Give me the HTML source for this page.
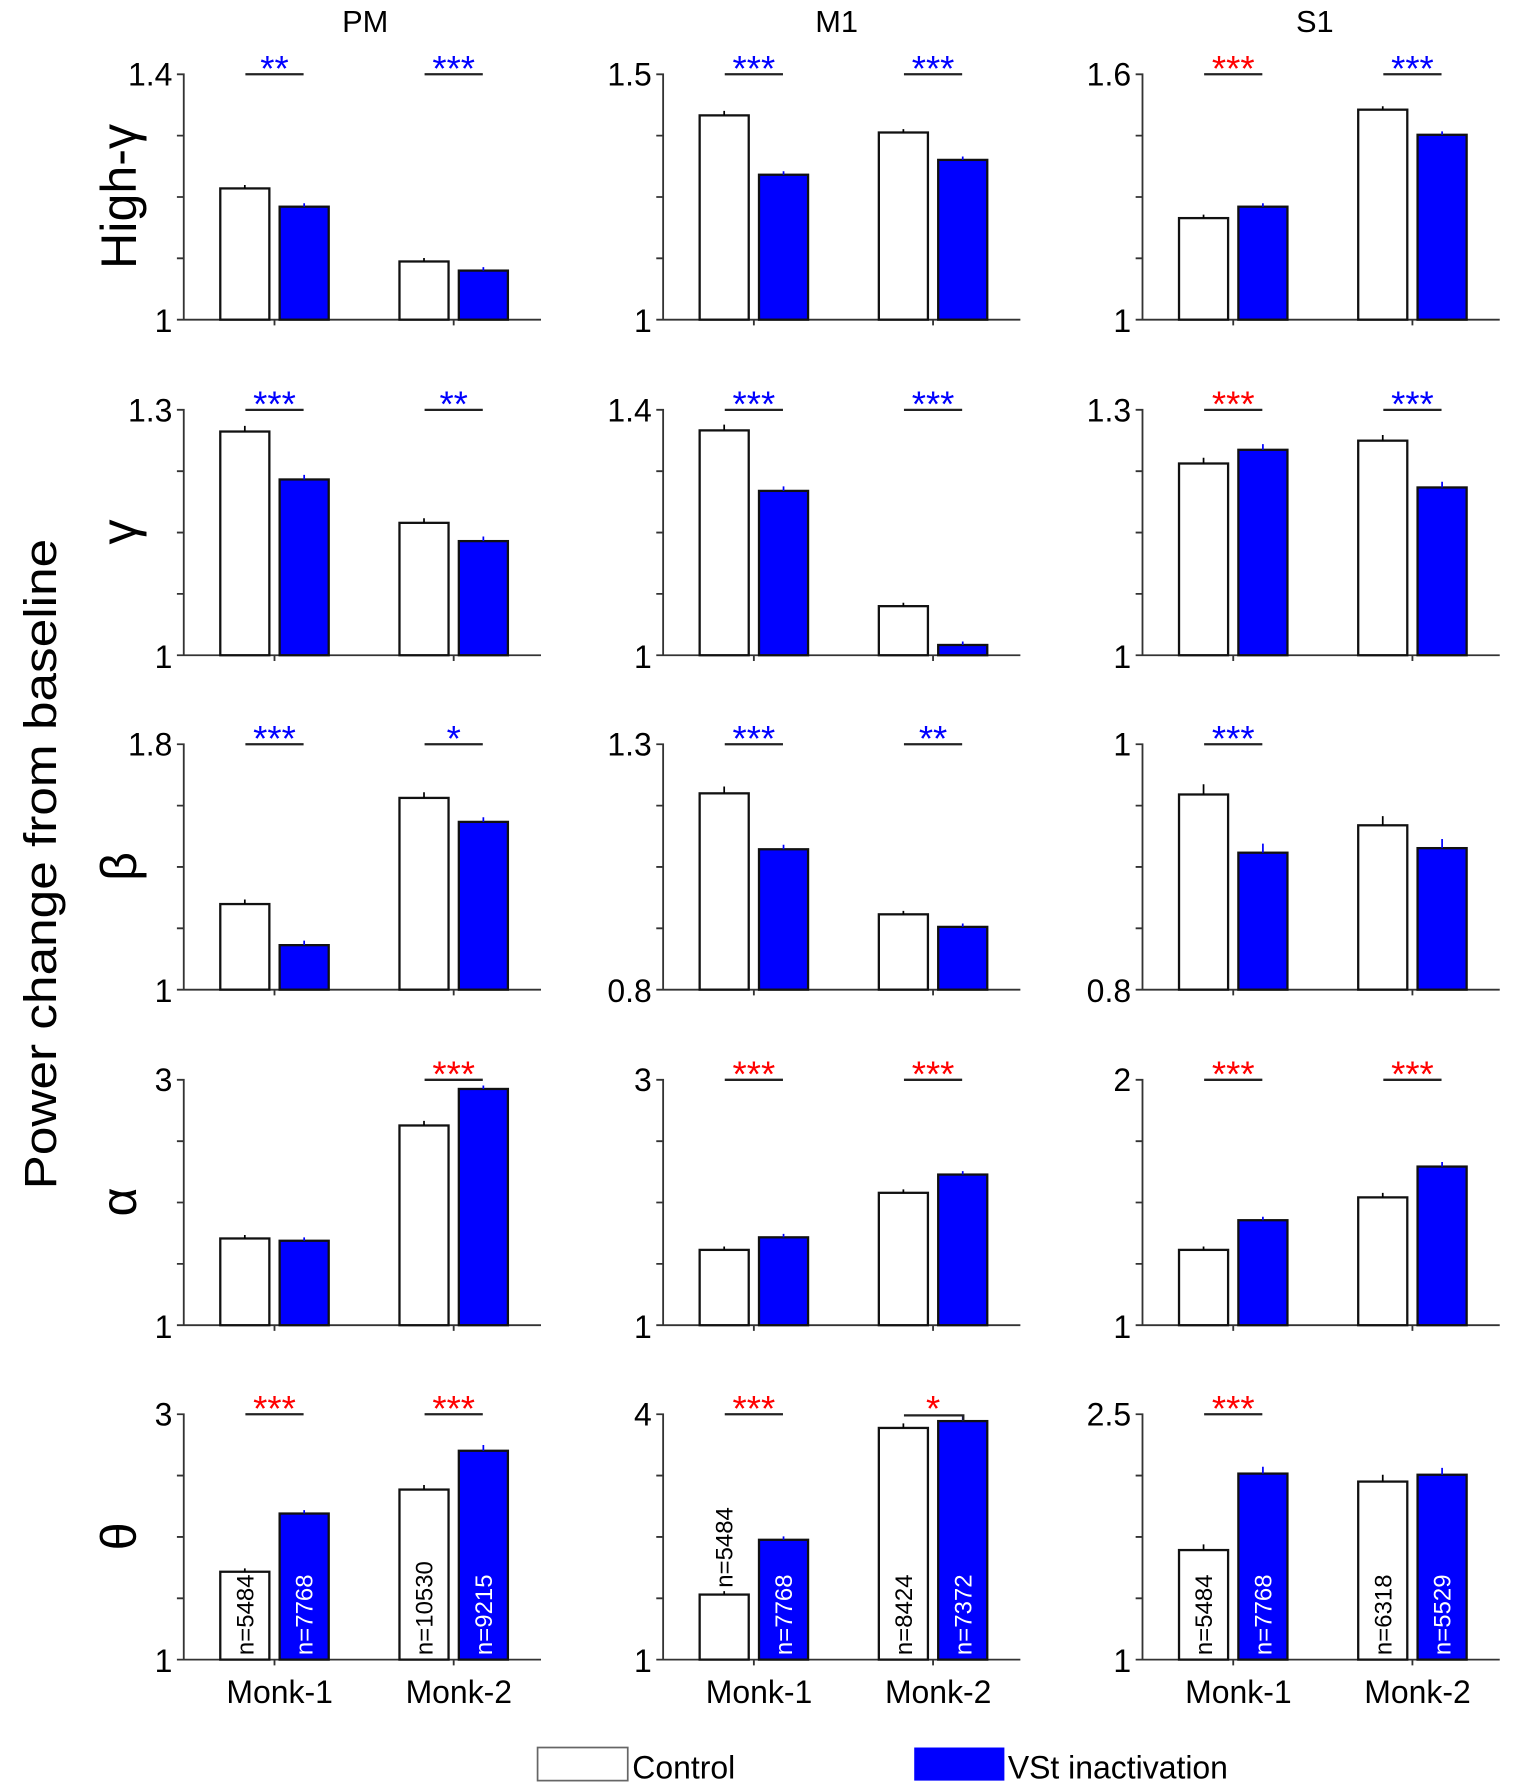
<!DOCTYPE html>
<html><head><meta charset="utf-8"><style>
html,body{margin:0;padding:0;background:#fff}
svg{display:block}
text{font-family:"Liberation Sans",Arial,sans-serif}
.c{fill:#fff;stroke:#111;stroke-width:2}
.v{fill:#0000ff;stroke:#111;stroke-width:2}
.tl{font-size:28px;text-anchor:end}
.st{font-size:32px;text-anchor:middle}
.nb{font-size:21px;fill:#000}
.nw{font-size:21px;fill:#fff}
</style></head><body>
<svg width="1518" height="1783" viewBox="0 0 1330 1562" xmlns="http://www.w3.org/2000/svg">
<defs>
<g id="ax"><path d="M-6 0H0V215H313M-6 53.75H0M-6 107.5H0M-6 161.25H0M-6 215H0M79.5 215V220M236.5 215V220" fill="none" stroke="#333" stroke-width="1.6"/></g>
<path id="s1" d="M54 0H105" stroke="#222" stroke-width="2"/>
<path id="s2" d="M211 0H262" stroke="#222" stroke-width="2"/>
</defs>

<text x="320" y="28" font-size="27" text-anchor="middle">PM</text>
<text x="733" y="28" font-size="27" text-anchor="middle">M1</text>
<text x="1152" y="28" font-size="27" text-anchor="middle">S1</text>

<text transform="translate(49,757) rotate(-90)" font-size="40" text-anchor="middle" textLength="570" lengthAdjust="spacingAndGlyphs">Power change from baseline</text>
<text transform="translate(119,172) rotate(-90)" font-size="44" text-anchor="middle">High-γ</text>
<text transform="translate(119,466) rotate(-90)" font-size="44" text-anchor="middle">γ</text>
<text transform="translate(119,759) rotate(-90)" font-size="44" text-anchor="middle">β</text>
<text transform="translate(119,1053) rotate(-90)" font-size="44" text-anchor="middle">α</text>
<text transform="translate(119,1346) rotate(-90)" font-size="44" text-anchor="middle">θ</text>

<!-- Row 1 -->
<g transform="translate(161,65)"><use href="#ax"/>
<text class="tl" x="-10" y="10">1.4</text><text class="tl" x="-10" y="226">1</text>
<rect class="c" x="32" y="100" width="43" height="115"/><rect class="v" x="84" y="116" width="43" height="99"/>
<rect class="c" x="189" y="164" width="43" height="51"/><rect class="v" x="241" y="172" width="43" height="43"/>
<path d="M53.5 97V100M210.5 161V164" stroke="#000" stroke-width="1.5"/><path d="M105.5 113V116M262.5 169V172" stroke="#00f" stroke-width="1.5"/>
<use href="#s1"/><use href="#s2"/>
<text class="st" x="79.5" y="6" fill="#00f">**</text><text class="st" x="236.5" y="6" fill="#00f">***</text></g>

<g transform="translate(581,65)"><use href="#ax"/>
<text class="tl" x="-10" y="10">1.5</text><text class="tl" x="-10" y="226">1</text>
<rect class="c" x="32" y="36" width="43" height="179"/><rect class="v" x="84" y="88" width="43" height="127"/>
<rect class="c" x="189" y="51" width="43" height="164"/><rect class="v" x="241" y="75" width="43" height="140"/>
<path d="M53.5 32V36M210.5 48V51" stroke="#000" stroke-width="1.5"/><path d="M105.5 85V88M262.5 72V75" stroke="#00f" stroke-width="1.5"/>
<use href="#s1"/><use href="#s2"/>
<text class="st" x="79.5" y="6" fill="#00f">***</text><text class="st" x="236.5" y="6" fill="#00f">***</text></g>

<g transform="translate(1001,65)"><use href="#ax"/>
<text class="tl" x="-10" y="10">1.6</text><text class="tl" x="-10" y="226">1</text>
<rect class="c" x="32" y="126" width="43" height="89"/><rect class="v" x="84" y="116" width="43" height="99"/>
<rect class="c" x="189" y="31" width="43" height="184"/><rect class="v" x="241" y="53" width="43" height="162"/>
<path d="M53.5 123V126M210.5 28V31" stroke="#000" stroke-width="1.5"/><path d="M105.5 113V116M262.5 50V53" stroke="#00f" stroke-width="1.5"/>
<use href="#s1"/><use href="#s2"/>
<text class="st" x="79.5" y="6" fill="#f00">***</text><text class="st" x="236.5" y="6" fill="#00f">***</text></g>

<!-- Row 2 -->
<g transform="translate(161,359)"><use href="#ax"/>
<text class="tl" x="-10" y="10">1.3</text><text class="tl" x="-10" y="226">1</text>
<rect class="c" x="32" y="19" width="43" height="196"/><rect class="v" x="84" y="61" width="43" height="154"/>
<rect class="c" x="189" y="99" width="43" height="116"/><rect class="v" x="241" y="115" width="43" height="100"/>
<path d="M53.5 14V19M210.5 95V99" stroke="#000" stroke-width="1.5"/><path d="M105.5 57V61M262.5 111V115" stroke="#00f" stroke-width="1.5"/>
<use href="#s1"/><use href="#s2"/>
<text class="st" x="79.5" y="6" fill="#00f">***</text><text class="st" x="236.5" y="6" fill="#00f">**</text></g>

<g transform="translate(581,359)"><use href="#ax"/>
<text class="tl" x="-10" y="10">1.4</text><text class="tl" x="-10" y="226">1</text>
<rect class="c" x="32" y="18" width="43" height="197"/><rect class="v" x="84" y="71" width="43" height="144"/>
<rect class="c" x="189" y="172" width="43" height="43"/><rect class="v" x="241" y="206" width="43" height="9"/>
<path d="M53.5 13V18M210.5 169V172" stroke="#000" stroke-width="1.5"/><path d="M105.5 67V71M262.5 203V206" stroke="#00f" stroke-width="1.5"/>
<use href="#s1"/><use href="#s2"/>
<text class="st" x="79.5" y="6" fill="#00f">***</text><text class="st" x="236.5" y="6" fill="#00f">***</text></g>

<g transform="translate(1001,359)"><use href="#ax"/>
<text class="tl" x="-10" y="10">1.3</text><text class="tl" x="-10" y="226">1</text>
<rect class="c" x="32" y="47" width="43" height="168"/><rect class="v" x="84" y="35" width="43" height="180"/>
<rect class="c" x="189" y="27" width="43" height="188"/><rect class="v" x="241" y="68" width="43" height="147"/>
<path d="M53.5 42V47M210.5 22V27" stroke="#000" stroke-width="1.5"/><path d="M105.5 30V35M262.5 63V68" stroke="#00f" stroke-width="1.5"/>
<use href="#s1"/><use href="#s2"/>
<text class="st" x="79.5" y="6" fill="#f00">***</text><text class="st" x="236.5" y="6" fill="#00f">***</text></g>

<!-- Row 3 -->
<g transform="translate(161,652)"><use href="#ax"/>
<text class="tl" x="-10" y="10">1.8</text><text class="tl" x="-10" y="226">1</text>
<rect class="c" x="32" y="140" width="43" height="75"/><rect class="v" x="84" y="176" width="43" height="39"/>
<rect class="c" x="189" y="47" width="43" height="168"/><rect class="v" x="241" y="68" width="43" height="147"/>
<path d="M53.5 136V140M210.5 42V47" stroke="#000" stroke-width="1.5"/><path d="M105.5 172V176M262.5 64V68" stroke="#00f" stroke-width="1.5"/>
<use href="#s1"/><use href="#s2"/>
<text class="st" x="79.5" y="6" fill="#00f">***</text><text class="st" x="236.5" y="6" fill="#00f">*</text></g>

<g transform="translate(581,652)"><use href="#ax"/>
<text class="tl" x="-10" y="10">1.3</text><text class="tl" x="-10" y="226">0.8</text>
<rect class="c" x="32" y="43" width="43" height="172"/><rect class="v" x="84" y="92" width="43" height="123"/>
<rect class="c" x="189" y="149" width="43" height="66"/><rect class="v" x="241" y="160" width="43" height="55"/>
<path d="M53.5 37V43M210.5 146V149" stroke="#000" stroke-width="1.5"/><path d="M105.5 88V92M262.5 157V160" stroke="#00f" stroke-width="1.5"/>
<use href="#s1"/><use href="#s2"/>
<text class="st" x="79.5" y="6" fill="#00f">***</text><text class="st" x="236.5" y="6" fill="#00f">**</text></g>

<g transform="translate(1001,652)"><use href="#ax"/>
<text class="tl" x="-10" y="10">1</text><text class="tl" x="-10" y="226">0.8</text>
<rect class="c" x="32" y="44" width="43" height="171"/><rect class="v" x="84" y="95" width="43" height="120"/>
<rect class="c" x="189" y="71" width="43" height="144"/><rect class="v" x="241" y="91" width="43" height="124"/>
<path d="M53.5 35V44M210.5 63V71" stroke="#000" stroke-width="1.5"/><path d="M105.5 87V95M262.5 83V91" stroke="#00f" stroke-width="1.5"/>
<use href="#s1"/>
<text class="st" x="79.5" y="6" fill="#00f">***</text></g>

<!-- Row 4 -->
<g transform="translate(161,946)"><use href="#ax"/>
<text class="tl" x="-10" y="10">3</text><text class="tl" x="-10" y="226">1</text>
<rect class="c" x="32" y="139" width="43" height="76"/><rect class="v" x="84" y="141" width="43" height="74"/>
<rect class="c" x="189" y="40" width="43" height="175"/><rect class="v" x="241" y="8" width="43" height="207"/>
<path d="M53.5 136V139M210.5 36V40" stroke="#000" stroke-width="1.5"/><path d="M105.5 138V141M262.5 5V8" stroke="#00f" stroke-width="1.5"/>
<use href="#s2"/>
<text class="st" x="236.5" y="6" fill="#f00">***</text></g>

<g transform="translate(581,946)"><use href="#ax"/>
<text class="tl" x="-10" y="10">3</text><text class="tl" x="-10" y="226">1</text>
<rect class="c" x="32" y="149" width="43" height="66"/><rect class="v" x="84" y="138" width="43" height="77"/>
<rect class="c" x="189" y="99" width="43" height="116"/><rect class="v" x="241" y="83" width="43" height="132"/>
<path d="M53.5 146V149M210.5 96V99" stroke="#000" stroke-width="1.5"/><path d="M105.5 135V138M262.5 80V83" stroke="#00f" stroke-width="1.5"/>
<use href="#s1"/><use href="#s2"/>
<text class="st" x="79.5" y="6" fill="#f00">***</text><text class="st" x="236.5" y="6" fill="#f00">***</text></g>

<g transform="translate(1001,946)"><use href="#ax"/>
<text class="tl" x="-10" y="10">2</text><text class="tl" x="-10" y="226">1</text>
<rect class="c" x="32" y="149" width="43" height="66"/><rect class="v" x="84" y="123" width="43" height="92"/>
<rect class="c" x="189" y="103" width="43" height="112"/><rect class="v" x="241" y="76" width="43" height="139"/>
<path d="M53.5 146V149M210.5 99V103" stroke="#000" stroke-width="1.5"/><path d="M105.5 120V123M262.5 72V76" stroke="#00f" stroke-width="1.5"/>
<use href="#s1"/><use href="#s2"/>
<text class="st" x="79.5" y="6" fill="#f00">***</text><text class="st" x="236.5" y="6" fill="#f00">***</text></g>

<!-- Row 5 -->
<g transform="translate(161,1239)"><use href="#ax"/>
<text class="tl" x="-10" y="10">3</text><text class="tl" x="-10" y="226">1</text>
<rect class="c" x="32" y="138" width="43" height="77"/><rect class="v" x="84" y="87" width="43" height="128"/>
<rect class="c" x="189" y="66" width="43" height="149"/><rect class="v" x="241" y="32" width="43" height="183"/>
<path d="M53.5 135V138M210.5 62V66" stroke="#000" stroke-width="1.5"/><path d="M105.5 84V87M262.5 27V32" stroke="#00f" stroke-width="1.5"/>
<use href="#s1"/><use href="#s2"/>
<text class="st" x="79.5" y="6" fill="#f00">***</text><text class="st" x="236.5" y="6" fill="#f00">***</text>
<text class="nb" transform="translate(61,211) rotate(-90)">n=5484</text>
<text class="nw" transform="translate(113,211) rotate(-90)">n=7768</text>
<text class="nb" transform="translate(218,211) rotate(-90)">n=10530</text>
<text class="nw" transform="translate(270,211) rotate(-90)">n=9215</text></g>

<g transform="translate(581,1239)"><use href="#ax"/>
<text class="tl" x="-10" y="10">4</text><text class="tl" x="-10" y="226">1</text>
<rect class="c" x="32" y="158" width="43" height="57"/><rect class="v" x="84" y="110" width="43" height="105"/>
<rect class="c" x="189" y="12" width="43" height="203"/><rect class="v" x="241" y="6" width="43" height="209"/>
<path d="M53.5 155V158M210.5 8V12" stroke="#000" stroke-width="1.5"/><path d="M105.5 107V110M262.5 2V6" stroke="#00f" stroke-width="1.5"/>
<use href="#s1"/><path d="M211 1H263V6" fill="none" stroke="#222" stroke-width="2"/>
<text class="st" x="79.5" y="6" fill="#f00">***</text><text class="st" x="236.5" y="6" fill="#f00">*</text>
<text class="nb" transform="translate(61,152) rotate(-90)">n=5484</text>
<text class="nw" transform="translate(113,211) rotate(-90)">n=7768</text>
<text class="nb" transform="translate(218,211) rotate(-90)">n=8424</text>
<text class="nw" transform="translate(270,211) rotate(-90)">n=7372</text></g>

<g transform="translate(1001,1239)"><use href="#ax"/>
<text class="tl" x="-10" y="10">2.5</text><text class="tl" x="-10" y="226">1</text>
<rect class="c" x="32" y="119" width="43" height="96"/><rect class="v" x="84" y="52" width="43" height="163"/>
<rect class="c" x="189" y="59" width="43" height="156"/><rect class="v" x="241" y="53" width="43" height="162"/>
<path d="M53.5 114V119M210.5 53V59" stroke="#000" stroke-width="1.5"/><path d="M105.5 46V52M262.5 47V53" stroke="#00f" stroke-width="1.5"/>
<use href="#s1"/>
<text class="st" x="79.5" y="6" fill="#f00">***</text>
<text class="nb" transform="translate(61,211) rotate(-90)">n=5484</text>
<text class="nw" transform="translate(113,211) rotate(-90)">n=7768</text>
<text class="nb" transform="translate(218,211) rotate(-90)">n=6318</text>
<text class="nw" transform="translate(270,211) rotate(-90)">n=5529</text></g>

<!-- Monk labels -->
<g font-size="28" text-anchor="middle">
<text x="245" y="1492">Monk-1</text><text x="402" y="1492">Monk-2</text>
<text x="665" y="1492">Monk-1</text><text x="822" y="1492">Monk-2</text>
<text x="1085" y="1492">Monk-1</text><text x="1242" y="1492">Monk-2</text>
</g>

<!-- Legend -->
<rect x="471" y="1531" width="79" height="29" fill="#fff" stroke="#666" stroke-width="1.5"/>
<text x="554" y="1558" font-size="28">Control</text>
<rect x="801" y="1531" width="79" height="29" fill="#0000ff"/>
<text x="883" y="1558" font-size="28">VSt inactivation</text>
</svg>
</body></html>
